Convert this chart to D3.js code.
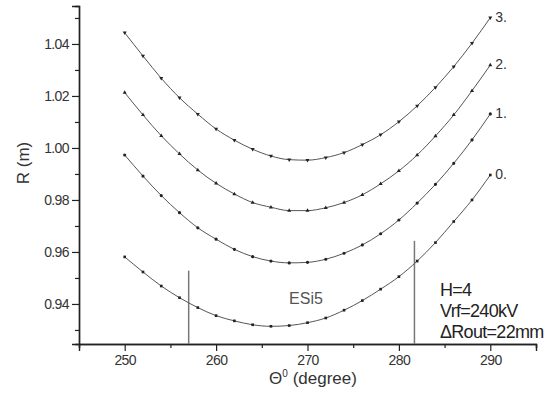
<!DOCTYPE html>
<html>
<head>
<meta charset="utf-8">
<script src="https://cdn.jsdelivr.net/npm/d3@7"></script>
<style>
  body { margin: 0; background: #fff; }
  text { font-family: Arial, "Liberation Sans", sans-serif; }
</style>
</head>
<body>
<script>
// angle (degree), 2 degree steps
var theta = [250, 252, 254, 256, 258, 260, 262, 264, 266, 268, 270,
             272, 274, 276, 278, 280, 282, 284, 286, 288, 290];

// R (m) for each curve
var r0 = [0.9581, 0.9523, 0.9469, 0.9424, 0.9386, 0.9355, 0.9335, 0.9320, 0.9314, 0.9317, 0.9328,
          0.9346, 0.9376, 0.9413, 0.9457, 0.9505, 0.9565, 0.9636, 0.9717, 0.9800, 0.9896];
var r1 = [0.9973, 0.9892, 0.9817, 0.9751, 0.9693, 0.9649, 0.9610, 0.9582, 0.9565, 0.9558, 0.9560,
          0.9572, 0.9595, 0.9627, 0.9670, 0.9723, 0.9788, 0.9860, 0.9941, 1.0031, 1.0131];
var r2 = [1.0213, 1.0127, 1.0047, 0.9977, 0.9915, 0.9864, 0.9823, 0.9790, 0.9772, 0.9759, 0.9759,
          0.9770, 0.9790, 0.9820, 0.9862, 0.9912, 0.9973, 1.0046, 1.0127, 1.0220, 1.0319];
var r3 = [1.0443, 1.0354, 1.0268, 1.0193, 1.0130, 1.0073, 1.0030, 0.9995, 0.9969, 0.9955, 0.9953,
          0.9963, 0.9982, 1.0013, 1.0051, 1.0101, 1.0162, 1.0233, 1.0313, 1.0403, 1.0501];

var seriesNames = ["0.", "1.", "2.", "3."];
var xTicks = [250, 260, 270, 280, 290];
var yTicks = [0.94, 0.96, 0.98, 1.00, 1.02, 1.04];
var markLines = [257, 281.7];           // vertical markers
var markTops = [0.9528, 0.9643];        // where they stop
var notes = ["H=4", "Vrf=240kV", "\u0394Rout=22mm"];

(function() {

var width = 554, height = 393,
    left = 79, right = 536, top = 6, bottom = 344;

var x = d3.scaleLinear().domain([245, 295]).range([left, right]),
    y = d3.scaleLinear().domain([0.9246, 1.0546]).range([bottom, top]);

var svg = d3.select("body").append("svg")
  .attr("width", width)
  .attr("height", height);

var series = [r0, r1, r2, r3],
    symbols = [d3.symbolSquare, d3.symbolCircle, d3.symbolTriangle, d3.symbolTriangle];

// axes
var xAxis = d3.axisBottom(x).tickValues(xTicks).tickSize(7).tickPadding(4)
      .tickFormat(d3.format("d")),
    xMinor = d3.axisBottom(x).tickValues(d3.range(245, 296, 10)).tickSize(4).tickFormat(""),
    yAxis = d3.axisLeft(y).tickValues(yTicks).tickSize(7).tickPadding(3)
      .tickFormat(d3.format(".2f")),
    yMinor = d3.axisLeft(y).tickValues([0.93, 0.95, 0.97, 0.99, 1.01, 1.03, 1.05]).tickSize(4).tickFormat("");

function style(g) {
  g.select(".domain").attr("stroke", "#222").attr("stroke-width", 1.4);
  g.selectAll(".tick line").attr("stroke", "#222").attr("stroke-width", 1.2);
  g.selectAll(".tick text").attr("fill", "#333").style("font-size", "14px")
    .style("letter-spacing", "-0.6px");
}

svg.append("g").attr("transform", "translate(0," + bottom + ")").call(xMinor).call(style);
svg.append("g").attr("transform", "translate(0," + bottom + ")").call(xAxis).call(style);
svg.append("g").attr("transform", "translate(" + left + ",0)").call(yMinor).call(style);
svg.append("g").attr("transform", "translate(" + left + ",0)").call(yAxis).call(style);

// axis titles
var xt = svg.append("text")
  .attr("x", 313).attr("y", 384)
  .attr("text-anchor", "middle")
  .attr("fill", "#333")
  .style("font-size", "17px");
xt.append("tspan").text("\u0398");
xt.append("tspan").attr("dy", -7).style("font-size", "10px").text("0");
xt.append("tspan").attr("dy", 7).text(" (degree)");

svg.append("text")
  .attr("transform", "translate(29,163) rotate(-90)")
  .attr("text-anchor", "middle")
  .attr("fill", "#333")
  .style("font-size", "17px")
  .text("R (m)");

// vertical marker lines
svg.selectAll(".mark")
  .data(markLines)
  .enter().append("line")
    .attr("x1", function(d) { return x(d); })
    .attr("x2", function(d) { return x(d); })
    .attr("y1", function(d, i) { return y(markTops[i]); })
    .attr("y2", bottom)
    .attr("stroke", "#777")
    .attr("stroke-width", 1.5);

// curves
var line = d3.line()
  .x(function(d, i) { return x(theta[i]); })
  .y(function(d) { return y(d); })
  .curve(d3.curveMonotoneX);

series.forEach(function(s, k) {
  svg.append("path")
    .attr("d", line(s))
    .attr("fill", "none")
    .attr("stroke", "#555")
    .attr("stroke-width", 1);

  svg.selectAll(".pt" + k)
    .data(s)
    .enter().append("path")
      .attr("d", d3.symbol().type(symbols[k]).size(k == 1 ? 8 : 7))
      .attr("transform", function(d, i) {
        return "translate(" + x(theta[i]) + "," + y(d) + ")" + (k == 3 ? " rotate(180)" : "");
      })
      .attr("fill", "#222");

  svg.append("text")
    .attr("x", x(theta[theta.length - 1]) + 5)
    .attr("y", y(s[s.length - 1]) + 4)
    .attr("fill", "#333")
    .style("font-size", "14px")
    .text(seriesNames[k]);
});

// labels
svg.append("text")
  .attr("x", 306).attr("y", 304)
  .attr("text-anchor", "middle")
  .attr("fill", "#555")
  .style("font-size", "16px")
  .text("ESi5");

svg.selectAll(".note")
  .data(notes)
  .enter().append("text")
    .attr("x", 440)
    .attr("y", function(d, i) { return 296 + i * 21; })
    .attr("fill", "#222")
    .style("font-size", "18px")
    .style("letter-spacing", "-0.7px")
    .text(function(d) { return d; });

})();
</script>
</body>
</html>
